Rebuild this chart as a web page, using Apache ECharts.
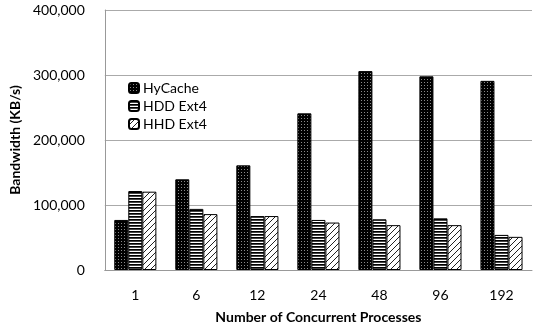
<!DOCTYPE html>
<html><head><meta charset="utf-8">
<script src="https://cdn.jsdelivr.net/npm/echarts@6/dist/echarts.min.js"></script>
<style>html,body{margin:0;padding:0;background:#fff}#c{width:535px;height:331px}</style>
</head><body><div id="c"></div>
<script>
var categories = ['1','6','12','24','48','96','192'];
var hyCache = [77000,139500,161000,241000,306000,298000,291000];
var hddExt4 = [121500,94000,83000,77000,78000,79500,54000];
var hhdExt4 = [120500,86000,83000,73000,69000,69000,51000];
var seriesNames = ['HyCache','HDD Ext4','HHD Ext4'];

function mk(w,h,draw){var c=document.createElement('canvas');c.width=w;c.height=h;var g=c.getContext('2d');draw(g);return c;}
var patDots = mk(3,3,function(g){g.fillStyle='#000';g.fillRect(0,0,3,3);g.fillStyle='#8a8a8a';g.fillRect(1,1,1,1);});
var patStripes = mk(3,3,function(g){g.fillStyle='#fff';g.fillRect(0,0,3,3);g.fillStyle='#000';g.fillRect(0,0,3,1);g.fillStyle='#444';g.fillRect(0,1,3,1);});
var patHatch = mk(6,6,function(g){g.fillStyle='#fff';g.fillRect(0,0,6,6);g.strokeStyle='#222';g.lineWidth=1;g.beginPath();g.moveTo(-1,7);g.lineTo(7,-1);g.stroke();g.beginPath();g.moveTo(-1,1);g.lineTo(1,-1);g.stroke();g.beginPath();g.moveTo(5,7);g.lineTo(7,5);g.stroke();});
var pats=[patDots,patStripes,patHatch];
var datas=[hyCache,hddExt4,hhdExt4];

var chart = echarts.init(document.getElementById('c'),null,{renderer:'canvas'});
var font='Lato';
chart.setOption({
  animation:false,
  textStyle:{fontFamily:font},
  grid:{left:103,right:3,top:10,bottom:61},
  legend:{
    orient:'vertical',left:123,top:76,itemWidth:10,itemHeight:10,itemGap:4,
    textStyle:{fontFamily:font,fontSize:14,color:'#000',padding:[0,0,0,-1]},
    data:seriesNames
  },
  xAxis:{
    type:'category',data:categories,
    axisLine:{lineStyle:{color:'#999',width:1}},
    axisTick:{show:false},
    axisLabel:{color:'#000',fontSize:14,margin:18,fontFamily:font},
    name:'Number of Concurrent Processes',nameLocation:'middle',nameGap:40,
    nameTextStyle:{fontWeight:'bold',fontSize:14,color:'#000',fontFamily:font}
  },
  yAxis:{
    type:'value',min:0,max:400000,interval:100000,
    axisLine:{show:true,lineStyle:{color:'#999',width:1}},
    axisTick:{show:false},
    splitLine:{lineStyle:{color:'#aaa',width:1}},
    axisLabel:{color:'#000',fontSize:14,margin:20,fontFamily:font,
      formatter:function(v){return v.toLocaleString('en-US');}},
    name:'Bandwidth (KB/s)',nameLocation:'middle',nameGap:82,
    nameTextStyle:{fontWeight:'bold',fontSize:14,color:'#000',fontFamily:font}
  },
  series:datas.map(function(d,i){return {
    name:seriesNames[i],type:'bar',data:d,barGap:'0%',barCategoryGap:'31%',
    itemStyle:{color:{image:pats[i],repeat:'repeat'},borderColor:'#000',borderWidth:1}
  };})
});
</script></body></html>
